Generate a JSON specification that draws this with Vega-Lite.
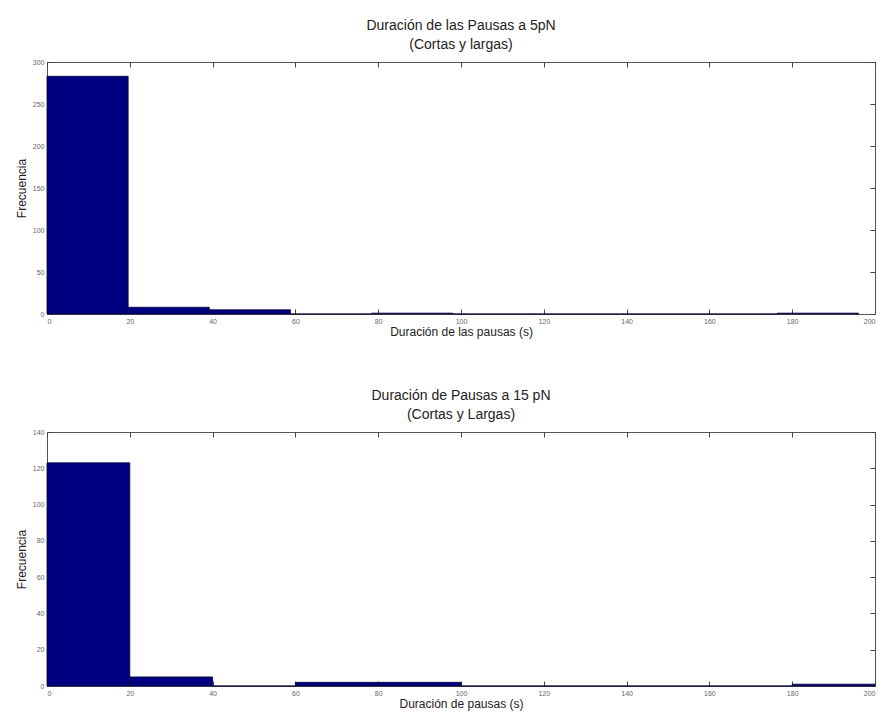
{
  "$schema": "https://vega.github.io/schema/vega-lite/v6.json",
  "background": "white",
  "padding": {"left": 14, "top": 18, "right": 6, "bottom": 5},
  "spacing": 50,
  "config": {
    "font": "Liberation Sans",
    "view": {"stroke": "#555", "strokeWidth": 1},
    "axis": {
      "grid": false,
      "domain": false,
      "tickColor": "#444",
      "tickSize": -5,
      "labelFontSize": 7,
      "labelColor": "#666",
      "labelPadding": 8,
      "titleFontSize": 12,
      "titleFontWeight": "normal",
      "titleColor": "#222"
    },
    "title": {"fontSize": 14, "fontWeight": "normal", "color": "#222", "lineHeight": 19, "offset": 6}
  },
  "datasets": {
    "p5": [
      {"x0": 0, "x1": 19.6, "n": 283},
      {"x0": 19.6, "x1": 39.2, "n": 8},
      {"x0": 39.2, "x1": 58.8, "n": 5},
      {"x0": 58.8, "x1": 78.4, "n": 0},
      {"x0": 78.4, "x1": 98, "n": 1},
      {"x0": 98, "x1": 117.6, "n": 0},
      {"x0": 117.6, "x1": 137.2, "n": 0},
      {"x0": 137.2, "x1": 156.8, "n": 0},
      {"x0": 156.8, "x1": 176.4, "n": 0},
      {"x0": 176.4, "x1": 196, "n": 1}
    ],
    "p15": [
      {"x0": 0, "x1": 20, "n": 123},
      {"x0": 20, "x1": 40, "n": 5},
      {"x0": 40, "x1": 60, "n": 0},
      {"x0": 60, "x1": 80, "n": 2},
      {"x0": 80, "x1": 100, "n": 2},
      {"x0": 100, "x1": 120, "n": 0},
      {"x0": 120, "x1": 140, "n": 0},
      {"x0": 140, "x1": 160, "n": 0},
      {"x0": 160, "x1": 180, "n": 0},
      {"x0": 180, "x1": 200, "n": 1}
    ]
  },
  "vconcat": [
    {
      "title": {"text": ["Duración de las Pausas a 5pN", "(Cortas y largas)"]},
      "width": 828,
      "height": 252,
      "data": {"name": "p5"},
      "layer": [
        {
          "mark": {"type": "bar", "color": "#000080", "stroke": "#000033", "strokeWidth": 0.8},
          "encoding": {
            "x": {"field": "x0", "type": "quantitative", "scale": {"domain": [0, 200], "nice": false},
                  "axis": {"values": [0, 20, 40, 60, 80, 100, 120, 140, 160, 180, 200], "title": "Duración de las pausas (s)", "titlePadding": 2}},
            "x2": {"field": "x1"},
            "y": {"field": "n", "type": "quantitative", "scale": {"domain": [0, 300], "nice": false},
                  "axis": {"values": [0, 50, 100, 150, 200, 250, 300], "title": "Frecuencia", "titlePadding": 4}},
            "y2": {"datum": 0}
          }
        },
        {
          "mark": {"type": "bar", "opacity": 0},
          "encoding": {
            "x": {"field": "x0", "type": "quantitative",
                  "axis": {"orient": "top", "values": [0, 20, 40, 60, 80, 100, 120, 140, 160, 180, 200], "labels": false, "title": null}},
            "x2": {"field": "x1"},
            "y": {"field": "n", "type": "quantitative",
                  "axis": {"orient": "right", "values": [0, 50, 100, 150, 200, 250, 300], "labels": false, "title": null}},
            "y2": {"datum": 0}
          }
        }
      ],
      "resolve": {"axis": {"x": "independent", "y": "independent"}}
    },
    {
      "title": {"text": ["Duración de Pausas a 15 pN", "(Cortas y Largas)"]},
      "width": 828,
      "height": 254,
      "data": {"name": "p15"},
      "layer": [
        {
          "mark": {"type": "bar", "color": "#000080", "stroke": "#000033", "strokeWidth": 0.8},
          "encoding": {
            "x": {"field": "x0", "type": "quantitative", "scale": {"domain": [0, 200], "nice": false},
                  "axis": {"values": [0, 20, 40, 60, 80, 100, 120, 140, 160, 180, 200], "title": "Duración de pausas (s)", "titlePadding": 2}},
            "x2": {"field": "x1"},
            "y": {"field": "n", "type": "quantitative", "scale": {"domain": [0, 140], "nice": false},
                  "axis": {"values": [0, 20, 40, 60, 80, 100, 120, 140], "title": "Frecuencia", "titlePadding": 4}},
            "y2": {"datum": 0}
          }
        },
        {
          "mark": {"type": "bar", "opacity": 0},
          "encoding": {
            "x": {"field": "x0", "type": "quantitative",
                  "axis": {"orient": "top", "values": [0, 20, 40, 60, 80, 100, 120, 140, 160, 180, 200], "labels": false, "title": null}},
            "x2": {"field": "x1"},
            "y": {"field": "n", "type": "quantitative",
                  "axis": {"orient": "right", "values": [0, 20, 40, 60, 80, 100, 120, 140], "labels": false, "title": null}},
            "y2": {"datum": 0}
          }
        }
      ],
      "resolve": {"axis": {"x": "independent", "y": "independent"}}
    }
  ]
}
